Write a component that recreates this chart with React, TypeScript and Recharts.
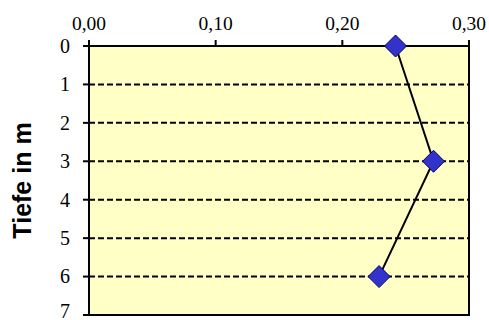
import {
  ScatterChart,
  Scatter,
  XAxis,
  YAxis,
  CartesianGrid,
  ReferenceArea
} from "recharts";

const tiefen = [0, 3, 6];
const werte = [0.242, 0.272, 0.229];

const xTicks = [0, 0.1, 0.2, 0.3];
const yTicks = [0, 1, 2, 3, 4, 5, 6, 7];

const data = tiefen.map((t, i) => ({ wert: werte[i], tiefe: t }));

const serif = "Liberation Serif, Times New Roman, serif";

const fmt = (v: number) => v.toFixed(2).replace(".", ",");

const renderXTick = (props: any) => {
  const { x, y, payload } = props;
  return (
    <text
      key={`x-${payload.value}`}
      x={x}
      y={y}
      textAnchor="middle"
      style={{ fontFamily: serif, fontSize: 19.5, fill: "#000" }}
    >
      {fmt(payload.value)}
    </text>
  );
};

const renderYTick = (props: any) => {
  const { x, y, payload } = props;
  return (
    <text
      key={`y-${payload.value}`}
      x={x}
      y={y}
      dy="0.34em"
      textAnchor="end"
      style={{ fontFamily: serif, fontSize: 20, fill: "#000" }}
    >
      {payload.value}
    </text>
  );
};

const Diamond = (props: any) => {
  const { cx, cy } = props;
  const r = 11;
  return (
    <polygon
      points={`${cx},${cy - r} ${cx + r},${cy} ${cx},${cy + r} ${cx - r},${cy}`}
      fill="#3333CC"
      stroke="#000066"
      strokeWidth={1}
    />
  );
};

const YLabel = (props: any) => {
  const { viewBox } = props;
  const cy = viewBox.y + viewBox.height / 2;
  const bx = 31;
  return (
    <text
      x={bx}
      y={cy}
      transform={`rotate(-90 ${bx} ${cy})`}
      textAnchor="middle"
      style={{
        fontFamily: "Liberation Sans, Arial, sans-serif",
        fontWeight: "bold",
        fontSize: 25,
        fill: "#000"
      }}
    >
      Tiefe in m
    </text>
  );
};

export default function App() {
  return (
    <div style={{ position: "absolute", left: 0, top: 0, background: "#fff" }}>
      <ScatterChart
        width={489}
        height={320}
        margin={{ top: 0, right: 20, bottom: 5, left: 0 }}
      >
        <CartesianGrid
          vertical={false}
          fill="#FFFFC6"
          stroke="#000"
          strokeWidth={2}
          strokeDasharray="6 3"
          fillOpacity={1}
        />
        <XAxis
          type="number"
          dataKey="wert"
          orientation="top"
          domain={[0, 0.3]}
          ticks={xTicks}
          height={46}
          tickSize={6}
          tickMargin={10}
          tick={renderXTick}
          axisLine={{ stroke: "#000", strokeWidth: 2 }}
          tickLine={{ stroke: "#000", strokeWidth: 2 }}
        />
        <YAxis
          type="number"
          dataKey="tiefe"
          domain={[0, 7]}
          ticks={yTicks}
          reversed
          width={89}
          tickSize={6}
          tickMargin={13}
          tick={renderYTick}
          axisLine={{ stroke: "#000", strokeWidth: 2 }}
          tickLine={{ stroke: "#000", strokeWidth: 2 }}
          label={<YLabel />}
        />
        <ReferenceArea
          x1={0}
          x2={0.3}
          y1={0}
          y2={7}
          fill="none"
          fillOpacity={0}
          stroke="#000"
          strokeWidth={2}
        />
        <Scatter
          data={data}
          line={{ stroke: "#000", strokeWidth: 2 }}
          lineType="joint"
          shape={<Diamond />}
          isAnimationActive={false}
        />
      </ScatterChart>
    </div>
  );
}
